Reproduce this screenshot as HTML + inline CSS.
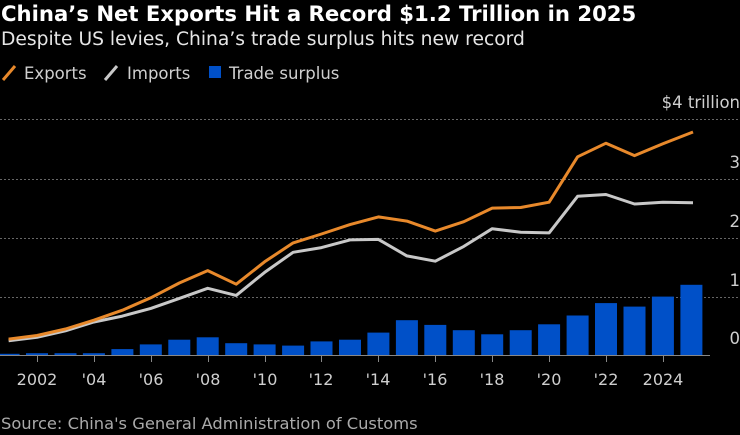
<!DOCTYPE html>
<html><head><meta charset="utf-8"><style>
body{margin:0;background:#000;}
svg{display:block;font-family:"DejaVu Sans","Liberation Sans",sans-serif;}
</style></head><body>
<svg width="740" height="435" viewBox="0 0 740 435" xmlns="http://www.w3.org/2000/svg">
<rect width="740" height="435" fill="#000"/>
<text x="1" y="21" fill="#fff" font-size="21.2" font-weight="bold">China’s Net Exports Hit a Record $1.2 Trillion in 2025</text>
<text x="1" y="45" fill="#e6e6e6" font-size="18.7">Despite US levies, China’s trade surplus hits new record</text>
<line x1="3" y1="80" x2="15" y2="66" stroke="#e8892b" stroke-width="3"/>
<text x="24" y="79" fill="#cfcfcf" font-size="16.5">Exports</text>
<line x1="105" y1="80" x2="117" y2="66" stroke="#c8c8c8" stroke-width="3"/>
<text x="127" y="79" fill="#cfcfcf" font-size="16.5">Imports</text>
<rect x="209" y="66" width="12" height="12" fill="#0050c8"/>
<text x="229" y="79" fill="#cfcfcf" font-size="16.5">Trade surplus</text>
<g stroke="#666" stroke-width="1" stroke-dasharray="2,2">
<line x1="0" y1="119.5" x2="740" y2="119.5"/>
<line x1="0" y1="179.5" x2="740" y2="179.5"/>
<line x1="0" y1="238.5" x2="740" y2="238.5"/>
<line x1="0" y1="297.5" x2="740" y2="297.5"/>
</g>
<g fill="#cfcfcf" font-size="16.5" text-anchor="end">
<text x="740" y="108">$4 trillion</text>
<text x="740" y="168">3</text>
<text x="740" y="227">2</text>
<text x="740" y="286">1</text>
<text x="740" y="344">0</text>
</g>
<g fill="#0050c8">
<rect x="-2.4" y="353.8" width="22" height="1.2"/>
<rect x="26" y="353.2" width="22" height="1.8"/>
<rect x="54.5" y="353.2" width="22" height="1.8"/>
<rect x="82.9" y="353.2" width="22" height="1.8"/>
<rect x="111.4" y="349.1" width="22" height="5.9"/>
<rect x="139.8" y="344.4" width="22" height="10.6"/>
<rect x="168.3" y="339.7" width="22" height="15.3"/>
<rect x="196.7" y="337.3" width="22" height="17.7"/>
<rect x="225.2" y="343.2" width="22" height="11.8"/>
<rect x="253.6" y="344.4" width="22" height="10.6"/>
<rect x="282.1" y="345.6" width="22" height="9.4"/>
<rect x="310.5" y="341.4" width="22" height="13.6"/>
<rect x="339" y="339.7" width="22" height="15.3"/>
<rect x="367.4" y="332.6" width="22" height="22.4"/>
<rect x="395.9" y="320.2" width="22" height="34.8"/>
<rect x="424.3" y="324.9" width="22" height="30.1"/>
<rect x="452.8" y="330.2" width="22" height="24.8"/>
<rect x="481.2" y="334.3" width="22" height="20.7"/>
<rect x="509.7" y="330.2" width="22" height="24.8"/>
<rect x="538.1" y="324.3" width="22" height="30.7"/>
<rect x="566.6" y="315.5" width="22" height="39.5"/>
<rect x="595" y="303.1" width="22" height="51.9"/>
<rect x="623.5" y="306.6" width="22" height="48.4"/>
<rect x="651.9" y="296.6" width="22" height="58.4"/>
<rect x="680.4" y="284.8" width="22" height="70.2"/>
</g>
<line x1="0" y1="355.5" x2="710" y2="355.5" stroke="#888" stroke-width="1"/>
<polyline fill="none" stroke="#c8c8c8" stroke-width="3" stroke-linejoin="round" points="8.6,340.8 37,337.3 65.5,330.8 93.9,322 122.4,316.1 150.8,308.4 179.3,298.4 207.7,288.3 236.2,295.4 264.6,272.4 293.1,252.3 321.5,247.6 350,239.9 378.4,239.4 406.9,255.9 435.3,261.2 463.8,246.4 492.2,228.7 520.7,232.3 549.1,232.9 577.6,196.3 606,194.5 634.5,204 662.9,202.2 693,202.8"/>
<polyline fill="none" stroke="#e8892b" stroke-width="3" stroke-linejoin="round" points="8.6,339.1 37,335.5 65.5,329 93.9,320.2 122.4,310.2 150.8,297.8 179.3,283 207.7,270.6 236.2,284.2 264.6,261.8 293.1,242.9 321.5,234 350,224.6 378.4,216.9 406.9,221.1 435.3,231.1 463.8,221.7 492.2,208.1 520.7,207.5 549.1,202.2 577.6,156.8 606,143.2 634.5,155.6 662.9,143.8 693,132"/>
<g stroke="#888" stroke-width="1">
<line x1="37.5" y1="356" x2="37.5" y2="362"/><line x1="94.5" y1="356" x2="94.5" y2="362"/><line x1="151.5" y1="356" x2="151.5" y2="362"/><line x1="208.5" y1="356" x2="208.5" y2="362"/><line x1="265.5" y1="356" x2="265.5" y2="362"/><line x1="321.5" y1="356" x2="321.5" y2="362"/><line x1="378.5" y1="356" x2="378.5" y2="362"/><line x1="435.5" y1="356" x2="435.5" y2="362"/><line x1="492.5" y1="356" x2="492.5" y2="362"/><line x1="549.5" y1="356" x2="549.5" y2="362"/><line x1="606.5" y1="356" x2="606.5" y2="362"/><line x1="663.5" y1="356" x2="663.5" y2="362"/>
</g>
<g fill="#cfcfcf" font-size="16" text-anchor="middle">
<text x="37" y="385">2002</text><text x="94" y="385">'04</text><text x="151" y="385">'06</text><text x="208" y="385">'08</text><text x="265" y="385">'10</text><text x="321" y="385">'12</text><text x="378" y="385">'14</text><text x="435" y="385">'16</text><text x="492" y="385">'18</text><text x="549" y="385">'20</text><text x="606" y="385">'22</text><text x="663" y="385">2024</text>
</g>
<text x="1" y="429" fill="#aaa" font-size="16.3">Source: China's General Administration of Customs</text>
</svg>
</body></html>
